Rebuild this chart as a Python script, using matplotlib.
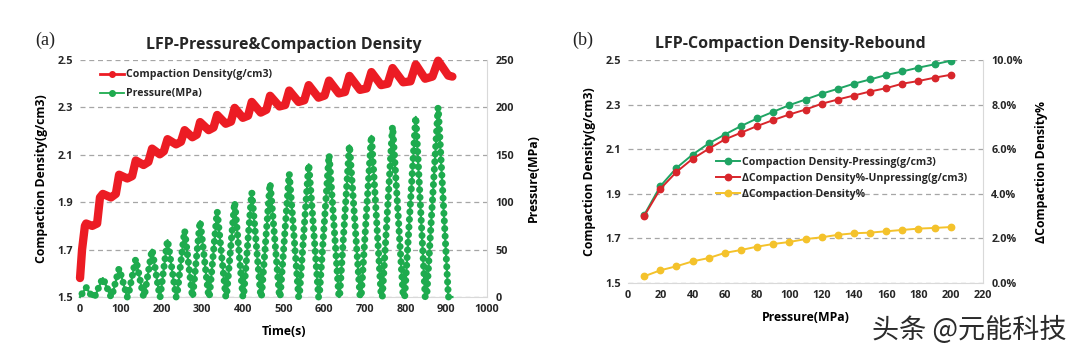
import matplotlib
matplotlib.use("Agg")
import matplotlib.pyplot as plt
from matplotlib import patheffects as pe
from matplotlib.lines import Line2D
from matplotlib.ticker import FuncFormatter

plt.rcParams.update({
    "font.family": ["Open Sans", "Noto Sans CJK SC", "DejaVu Sans"],
    "font.weight": "bold",
    "font.size": 7.8,
    "axes.labelweight": "bold",
    "axes.titleweight": "bold",
    "text.color": "#262626",
    "xtick.color": "#262626",
    "ytick.color": "#262626",
})

# ---- (a) pressure cycles vs time ----
cycle_peak_mpa = [10, 20, 30, 40, 50, 60, 70, 80, 90, 100,
                  110, 120, 130, 140, 150, 160, 170, 180, 190, 200]
cycle_start_s = [0, 36, 78, 118, 158, 197, 238, 277, 318, 360,
                 402, 446, 492, 539, 588, 638, 691, 743, 798, 852]
cycle_peak_s = [15, 56, 96, 137, 177, 215, 257, 295, 337, 380,
                422, 467, 514, 562, 612, 662, 716, 768, 825, 880]
cycle_end_s = [30, 76, 116, 156, 196, 236, 276, 316, 358, 400,
               444, 490, 537, 586, 636, 688, 740, 794, 848, 905]
last_time_s = 915

# compaction density
dens_time_s = [0, 5, 12, 15, 30, 42, 49, 56, 76, 88, 96, 116,
               128, 137, 156, 168, 177, 196, 206, 215, 236,
               248, 257, 276, 287, 295, 316, 328, 337, 358,
               371, 380, 400, 413, 422, 444, 458, 467, 490,
               504, 514, 537, 551, 562, 586, 601, 612, 636,
               651, 662, 688, 704, 716, 740, 756, 768, 794,
               812, 825, 848, 866, 880, 905, 915]
dens_gcm3 = [1.58, 1.70, 1.80, 1.81, 1.80, 1.81, 1.92, 1.935, 1.92, 1.935, 2.016, 2.0,
             2.01, 2.076, 2.057, 2.07, 2.126, 2.102, 2.115, 2.166, 2.144,
             2.155, 2.204, 2.174, 2.185, 2.238, 2.204, 2.215, 2.268, 2.231,
             2.24, 2.298, 2.256, 2.265, 2.323, 2.278, 2.29, 2.349, 2.304,
             2.31, 2.371, 2.323, 2.33, 2.394, 2.341, 2.35, 2.413, 2.359,
             2.365, 2.433, 2.374, 2.38, 2.449, 2.394, 2.40, 2.466, 2.406,
             2.41, 2.481, 2.421, 2.43, 2.497, 2.434, 2.43]

density_ticks = [1.5, 1.7, 1.9, 2.1, 2.3, 2.5]
time_ticks = [0, 100, 200, 300, 400, 500, 600, 700, 800, 900, 1000]
pressure_ticks = [0, 50, 100, 150, 200, 250]

# ---- (b) rebound ----
rebound_mpa = [10, 20, 30, 40, 50, 60, 70, 80, 90, 100,
               110, 120, 130, 140, 150, 160, 170, 180, 190, 200]
pressing_gcm3 = [1.805, 1.934, 2.016, 2.076, 2.126, 2.166, 2.204, 2.238, 2.268, 2.298,
                 2.323, 2.349, 2.371, 2.394, 2.413, 2.433, 2.449, 2.466, 2.481, 2.497]
unpressing_gcm3 = [1.80, 1.922, 1.998, 2.057, 2.102, 2.144, 2.174, 2.204, 2.231, 2.256,
                   2.278, 2.304, 2.323, 2.341, 2.359, 2.374, 2.394, 2.406, 2.421, 2.434]
rebound_pct = [0.30, 0.57, 0.75, 0.97, 1.12, 1.35, 1.48, 1.63, 1.75, 1.84,
               1.97, 2.05, 2.16, 2.23, 2.26, 2.32, 2.38, 2.44, 2.47, 2.51]
rebound_x_ticks = [0, 20, 40, 60, 80, 100, 120, 140, 160, 180, 200, 220]
rebound_pct_ticks = [0, 2, 4, 6, 8, 10]

RED = "#EC1C24"
GREEN = "#1EAB4E"
B_GREEN = "#1FA463"
B_RED = "#D8262B"
YELLOW = "#F4C22B"
GRID = "#A6A6A6"
EDGE = "#D9D9D9"


def style_axes(ax, ax2):
    for s in ax.spines.values():
        s.set_visible(False)
    for s in ax2.spines.values():
        s.set_visible(False)
    ax.spines["bottom"].set_visible(True)
    ax.spines["bottom"].set_color(EDGE)
    ax2.spines["right"].set_visible(True)
    ax2.spines["right"].set_color(EDGE)
    ax.yaxis.grid(True, linestyle=(0, (4, 3)), color=GRID, lw=0.9)
    ax.set_axisbelow(True)
    ax.tick_params(length=0, pad=5)
    ax2.tick_params(length=0, pad=6)


fig = plt.figure(figsize=(10.8, 3.55), dpi=100)

# ================= panel (a) =================
ax = fig.add_axes([0.0741, 0.1634, 0.3768, 0.6676])
ax2 = ax.twinx()
style_axes(ax, ax2)

press_t, press_v = [], []
for t0, tp, t1, pk in zip(cycle_start_s, cycle_peak_s, cycle_end_s, cycle_peak_mpa):
    press_t += [t0, tp, t1]
    press_v += [0, pk, 0]
press_t.append(last_time_s)
press_v.append(0)

ax.plot(dens_time_s, dens_gcm3, color=RED, lw=6.0, clip_on=False,
        solid_joinstyle="round", solid_capstyle="round")
# beads along the pressure trace
beads = pe.TickedStroke(spacing=5.5, angle=90, length=0.02,
                        linewidth=5.0, capstyle="round")
ax2.plot(press_t, press_v, color=GREEN, lw=1.6, clip_on=False,
         path_effects=[pe.Normal(), beads])

ax.set_xlim(0, 1000)
ax.set_ylim(1.5, 2.5)
ax2.set_ylim(0, 250)
ax.set_xticks(time_ticks)
ax.set_yticks(density_ticks)
ax.yaxis.set_major_formatter(FuncFormatter(lambda v, p: f"{v:.1f}"))
ax2.set_yticks(pressure_ticks)
ax.set_xlabel("Time(s)", fontsize=8.8, labelpad=7)
ax.set_ylabel("Compaction Density(g/cm3)", fontsize=8.8, labelpad=7)
ax2.set_ylabel("Pressure(MPa)", fontsize=8.8, labelpad=9)
ax.set_title("LFP-Pressure&Compaction Density", fontsize=11.5, pad=8)

handles_a = [
    Line2D([], [], color=RED, lw=2, marker="o", ms=4),
    Line2D([], [], color=GREEN, lw=1.3, marker="o", ms=4),
]
ax2.legend(handles_a, ["Compaction Density(g/cm3)", "Pressure(MPa)"],
           loc="upper left", bbox_to_anchor=(0.025, 1.0), frameon=False,
           handlelength=2.3, handletextpad=0.2, labelspacing=0.75,
           fontsize=7.6)

fig.text(0.042, 0.887, "(a)", family="Liberation Serif", fontweight="normal",
         fontsize=13, ha="center", va="center", color="#222222")

# ================= panel (b) =================
bx = fig.add_axes([0.5815, 0.2028, 0.3287, 0.628])
bx2 = bx.twinx()
style_axes(bx, bx2)

bx.plot(rebound_mpa, pressing_gcm3, color=B_GREEN, lw=1.4, marker="o", ms=4.6,
        label="Compaction Density-Pressing(g/cm3)")
bx.plot(rebound_mpa, unpressing_gcm3, color=B_RED, lw=1.4, marker="o", ms=4.6,
        label="\u0394Compaction Density%-Unpressing(g/cm3)")
bx2.plot(rebound_mpa, rebound_pct, color=YELLOW, lw=1.4, marker="o", ms=4.6,
         label="\u0394Compaction Density%")

bx.set_xlim(0, 220)
bx.set_ylim(1.5, 2.5)
bx2.set_ylim(0, 10)
bx.set_xticks(rebound_x_ticks)
bx.set_yticks(density_ticks)
bx.yaxis.set_major_formatter(FuncFormatter(lambda v, p: f"{v:.1f}"))
bx2.set_yticks(rebound_pct_ticks)
bx2.yaxis.set_major_formatter(FuncFormatter(lambda v, p: f"{v:.1f}%"))
bx.set_xlabel("Pressure(MPa)", fontsize=8.8, labelpad=7)
bx.set_ylabel("Compaction Density(g/cm3)", fontsize=8.8, labelpad=7)
bx2.set_ylabel("\u0394Compaction Density%", fontsize=8.8, labelpad=9)
fig.text(0.732, 0.875, "LFP-Compaction Density-Rebound", fontsize=11.5,
         fontweight="bold", ha="center", va="center")

h1, l1 = bx.get_legend_handles_labels()
h2, l2 = bx2.get_legend_handles_labels()
bx2.legend(h1 + h2, l1 + l2, loc="upper left", bbox_to_anchor=(0.22, 0.61),
           frameon=False, handlelength=2.3, handletextpad=0.2,
           labelspacing=0.5, fontsize=7.6)

fig.text(0.54, 0.887, "(b)", family="Liberation Serif", fontweight="normal",
         fontsize=13, ha="center", va="center", color="#222222")

fig.text(0.897, 0.07, "头条 @元能科技", family=["Noto Sans CJK SC", "DejaVu Sans"],
         fontweight="normal", fontsize=19.5, ha="center", va="center",
         color="#2b2b2b")

fig.savefig("out.png", dpi=100, facecolor="white")
